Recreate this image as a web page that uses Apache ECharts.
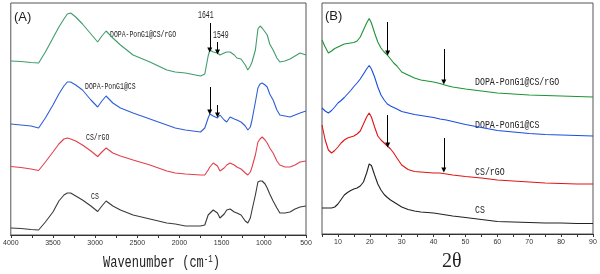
<!DOCTYPE html>
<html>
<head>
<meta charset="utf-8">
<script src="https://cdn.jsdelivr.net/npm/echarts@6/dist/echarts.min.js"></script>
<style>
  html, body { margin: 0; padding: 0; background: #fff; }
  #chart { width: 600px; height: 274px; }
</style>
</head>
<body>
<div id="chart"></div>
<script>
// FTIR (A): wavenumber grid, curves offset vertically (arbitrary units)
const ftirWavenumber = [4000, 3880, 3760, 3670, 3590, 3500, 3430, 3370, 3330, 3290,
  3230, 3150, 3050, 2970, 2920, 2870, 2790, 2700, 2550, 2350,
  2150, 2050, 1930, 1750, 1700, 1660, 1640, 1600, 1550, 1520,
  1470, 1440, 1400, 1350, 1320, 1270, 1220, 1190, 1160, 1140,
  1100, 1070, 1045, 1020, 985, 960, 930, 890, 845, 810,
  750, 690, 630, 570, 500];
const ftirDopaCSrGO = [174, 173.5, 172.5, 172, 183, 197, 208, 216, 221, 222,
  218, 211, 201, 193, 199, 204, 197, 190, 180, 173,
  165, 163, 162, 159, 161, 179, 185, 183, 182, 180,
  182, 183, 183, 180, 177, 176, 170, 165, 169, 173,
  185, 206, 209, 207, 203, 200, 191, 185, 177, 173,
  174, 176, 179, 182, 180];
const ftirDopaCS = [111, 110, 109, 107, 117, 130, 141, 149, 153, 153,
  150, 145, 135, 128, 134, 139, 132, 127, 122, 116,
  110, 107, 105, 103, 107, 117, 121, 119, 117, 120,
  115, 113, 118, 116, 115, 113, 109, 105, 108, 115,
  133, 147, 151, 152, 150, 148, 141, 135, 125, 120,
  119, 118, 120, 122, 124];
const ftirCSrGO = [68.5, 67.5, 66, 64.5, 73, 83, 91, 96, 97, 96,
  94, 90, 84, 78.5, 83, 87, 82, 79, 75, 70,
  64, 62, 61, 60, 60, 65, 68, 72, 69, 64,
  67, 70, 72, 70, 68, 66, 62, 60, 63, 68,
  80, 93, 96, 98, 95, 92, 87, 82, 74, 70,
  68, 68, 70, 73, 74];
const ftirCS = [7, 6.5, 5.5, 5, 13, 23, 34, 40, 42, 42,
  39, 35, 29, 23.5, 29, 34, 29, 25, 20, 16,
  12, 11, 9, 9, 10, 20, 21, 25, 22, 17,
  21, 25, 26, 23, 22, 20, 14, 12, 17, 25,
  40, 53, 54, 54, 51, 47, 41, 34, 27, 22,
  22, 23, 26, 28, 29];
// arrows: [wavenumber, from, to]
const ftirArrowsGreen = [[1641, 212, 185], [1549, 193, 183]];
const ftirArrowsBlue = [[1641, 148, 123], [1549, 130, 120]];

// XRD (B)
const xrdTwoTheta = [5, 6, 7, 8, 9, 10, 11, 12, 13, 14,
  15, 16, 17, 18, 19, 19.8, 20.5, 21.5, 22.5, 23.5,
  24.5, 25.5, 26.5, 27.5, 28.5, 30, 32, 34, 36, 38,
  40, 42, 43, 44, 46, 50, 55, 60, 65, 70,
  75, 80, 85, 90];
const xrdDopaCSrGO = [194, 187, 181, 183, 185.5, 187, 188.5, 190, 190.5, 191,
  191.5, 193, 197, 204, 211, 215.5, 211, 201, 192, 186,
  182, 179, 175, 171, 168, 162, 159, 156, 154, 153,
  152, 150.5, 149.5, 148.5, 147, 145, 143, 141, 140, 139,
  138.5, 138, 137.5, 137];
const xrdDopaCS = [126, 123, 121, 123.5, 127, 131, 133.5, 136.5, 140, 143.5,
  147.5, 151, 155, 160, 165, 168.5, 165, 157, 147, 139,
  134, 130, 128, 126.5, 125, 122.5, 121, 119.5, 118.5, 117.5,
  116.5, 115, 114.5, 114, 112.5, 109.5, 106.5, 103.5, 102, 100.5,
  99.5, 99, 98.5, 98];
const xrdCSrGO = [109, 94, 84, 81, 83.5, 87, 91, 94, 96, 97,
  98, 100, 103, 110, 117, 121, 117, 107, 98, 94,
  91, 88, 85, 81, 76, 69, 64.5, 62.5, 62, 61.5,
  61, 61, 60.5, 60, 59, 57.5, 56, 54, 53, 52,
  51, 50.5, 50, 50];
const xrdCS = [26, 26, 26, 26, 27, 30, 34.5, 39, 41.5, 43.5,
  45, 46, 48, 52, 61, 70, 68.5, 59, 50, 44,
  39.5, 36.5, 34, 32, 30, 27, 24.5, 23, 22, 21.5,
  21, 20, 19.5, 19, 18, 16.5, 14.5, 12.5, 12, 11.5,
  11, 11, 10.5, 10.5];
const xrdArrowsGreen = [[25.6, 212, 181], [43.2, 185, 152]];
const xrdArrowsRed = [[25.6, 119, 89], [43.2, 96, 64]];

const chart = echarts.init(document.getElementById("chart"));

const pair = (xs, ys) => xs.map((x, i) => [x, ys[i]]);

const arrowMark = (arrows) => ({
  silent: true,
  symbol: ["none", "triangle"],
  symbolSize: 5,
  symbolRotate: 180,
  itemStyle: { color: "#000" },
  lineStyle: { color: "#000", type: "solid", width: 1 },
  label: { show: false },
  data: arrows.map((a) => [{ coord: [a[0], a[1]] }, { coord: [a[0], a[2]] }]),
});

const lineSeries = (xi, xs, ys, color, arrows) => ({
  type: "line",
  xAxisIndex: xi,
  yAxisIndex: xi,
  showSymbol: false,
  symbol: "none",
  silent: true,
  lineStyle: { color: color, width: 1.1 },
  data: pair(xs, ys),
  markLine: arrows ? arrowMark(arrows) : undefined,
});

const txt = (x, y, text, size, scaleX, extra) => ({
  type: "text",
  x: x,
  y: y,
  scaleX: scaleX,
  style: Object.assign({
    text: text,
    font: size + "px 'Liberation Mono'",
    fill: "#222",
    textVerticalAlign: "middle",
  }, extra || {}),
});

const tickLabel = {
  fontSize: 7, color: "#333", margin: 5, fontFamily: "Liberation Sans",
  formatter: (v) => String(v),
};

const option = {
  animation: false,
  grid: [
    { left: 10, right: 294, top: 3, bottom: 39, show: true, borderColor: "#555", borderWidth: 1 },
    { left: 322, right: 7, top: 3, bottom: 40, show: true, borderColor: "#555", borderWidth: 1 },
  ],
  xAxis: [
    {
      gridIndex: 0, type: "value", min: 500, max: 4000, interval: 500, inverse: true,
      axisLine: { lineStyle: { color: "#333", width: 1.2 } },
      axisTick: { length: 3, lineStyle: { color: "#333" } },
      minorTick: { show: true, splitNumber: 2, length: 3, lineStyle: { color: "#333" } },
      splitLine: { show: false },
      axisLabel: tickLabel,
    },
    {
      gridIndex: 1, type: "value", min: 5, max: 90, interval: 5,
      axisLine: { lineStyle: { color: "#333", width: 1.2 } },
      axisTick: { length: 3, lineStyle: { color: "#333" } },
      splitLine: { show: false },
      axisLabel: Object.assign({}, tickLabel, {
        formatter: (v) => (v % 10 === 0 ? String(v) : ""),
      }),
    },
  ],
  yAxis: [
    { gridIndex: 0, type: "value", min: 0, max: 232, show: false },
    { gridIndex: 1, type: "value", min: 0, max: 231, show: false },
  ],
  series: [
    lineSeries(0, ftirWavenumber, ftirDopaCSrGO, "#3f9d6c", ftirArrowsGreen),
    lineSeries(0, ftirWavenumber, ftirDopaCS, "#2e5fd6", ftirArrowsBlue),
    lineSeries(0, ftirWavenumber, ftirCSrGO, "#e0404c"),
    lineSeries(0, ftirWavenumber, ftirCS, "#3a3a3a"),
    lineSeries(1, xrdTwoTheta, xrdDopaCSrGO, "#1c9334", xrdArrowsGreen),
    lineSeries(1, xrdTwoTheta, xrdDopaCS, "#1a4ee0"),
    lineSeries(1, xrdTwoTheta, xrdCSrGO, "#e01414", xrdArrowsRed),
    lineSeries(1, xrdTwoTheta, xrdCS, "#222222"),
  ],
  graphic: [
    txt(14, 17, "(A)", 13, 1, { font: "13px 'Liberation Sans'" }),
    txt(325, 16, "(B)", 13, 1, { font: "13px 'Liberation Sans'" }),
    txt(110, 35, "DOPA-PonG1@CS/rGO", 9, 0.72),
    txt(85, 87, "DOPA-PonG1@CS", 9, 0.72),
    txt(86, 138, "CS/rGO", 9, 0.72),
    txt(91, 197, "CS", 9, 0.72),
    txt(198, 15, "1641", 10, 0.65),
    txt(213, 35, "1549", 10, 0.65),
    txt(475, 82, "DOPA-PonG1@CS/rGO", 11, 0.75),
    txt(475, 125, "DOPA-PonG1@CS", 11, 0.75),
    txt(475, 172, "CS/rGO", 11, 0.75),
    txt(475, 210, "CS", 11, 0.75),
    {
      type: "text", x: 103, y: 263, scaleX: 0.75,
      style: {
        text: "Wavenumber (cm{sup|-1})",
        font: "16px 'Liberation Mono'",
        fill: "#222",
        textVerticalAlign: "middle",
        rich: { sup: { fontSize: 10, fontFamily: "Liberation Mono", verticalAlign: "top", padding: [0, 0, 8, 0] } },
      },
    },
    txt(442, 262, "2θ", 20, 1, { font: "20px 'Liberation Serif'" }),
  ],
};

chart.setOption(option);
</script>
</body>
</html>
